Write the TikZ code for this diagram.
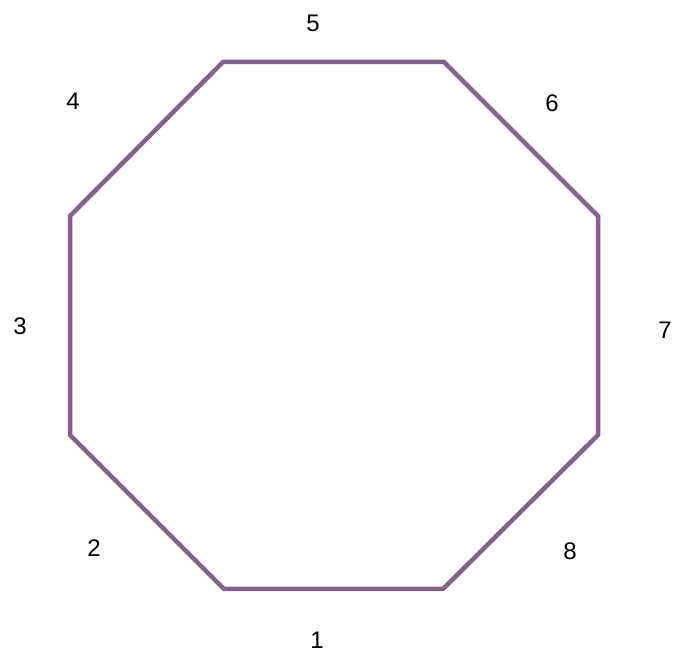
\documentclass[tikz,border=0pt]{standalone}
\usepackage{fontspec}
\setmainfont{Liberation Sans}
\definecolor{octline}{RGB}{128,98,140}
\begin{document}
\begin{tikzpicture}[x=1pt,y=1pt,
  lbl/.style={font=\fontsize{24}{26}\selectfont, inner sep=0pt, anchor=center},
  edge/.style={draw=octline, line width=4.5pt, line join=miter}]
\useasboundingbox (0,0) rectangle (673,657);
\coordinate (v1) at (223,595);
\coordinate (v2) at (444,595);
\coordinate (v3) at (598,441);
\coordinate (v4) at (598,222);
\coordinate (v5) at (443,68);
\coordinate (v6) at (224,68);
\coordinate (v7) at (70,222);
\coordinate (v8) at (70,441);
\draw[edge] (v1) -- (v2) -- (v3) -- (v4) -- (v5) -- (v6) -- (v7) -- (v8) -- cycle;
\node[lbl] (l5) at (313,634) {5};
\node[lbl] (l6) at (552,554) {6};
\node[lbl] (l7) at (665,327) {7};
\node[lbl] (l8) at (570,106) {8};
\node[lbl] (l1) at (317,17) {1};
\node[lbl] (l2) at (94,109) {2};
\node[lbl] (l3) at (20,331) {3};
\node[lbl] (l4) at (73,556) {4};
\end{tikzpicture}
\end{document}
